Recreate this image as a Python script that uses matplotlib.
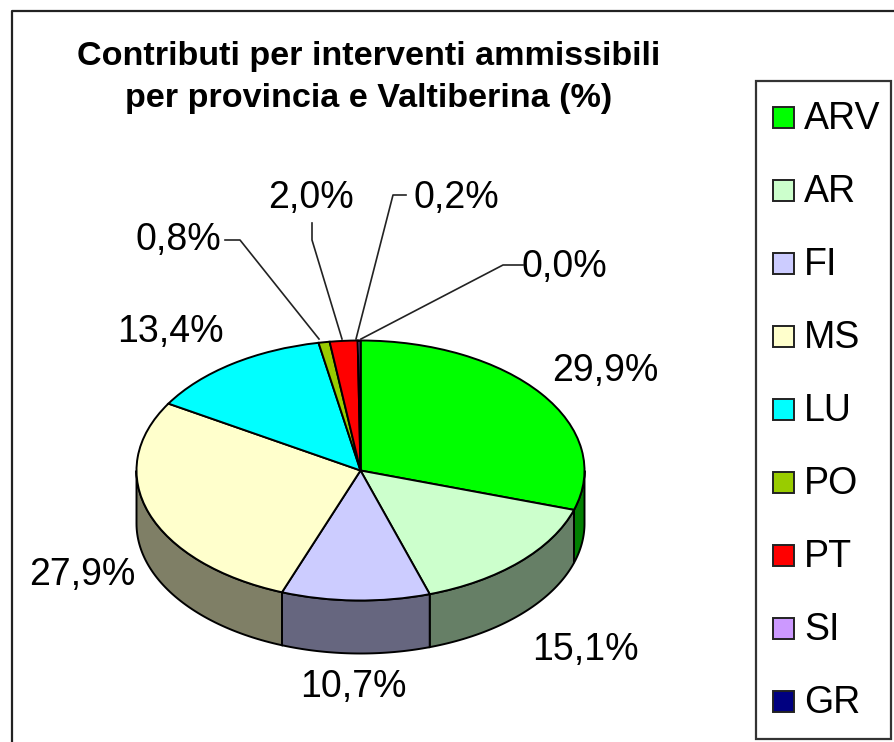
import matplotlib

matplotlib.use("Agg")
import matplotlib.pyplot as plt
import numpy as np
from matplotlib.patches import Rectangle

plt.rcParams["font.family"] = ["Liberation Sans", "DejaVu Sans"]

categories = ["ARV", "AR", "FI", "MS", "LU", "PO", "PT", "SI", "GR"]
values = [29.9, 15.1, 10.7, 27.9, 13.4, 0.8, 2.0, 0.2, 0.0]
colors = [
    "#00FF00", "#CCFFCC", "#CCCCFF", "#FFFFCC", "#00FFFF",
    "#99CC00", "#FF0000", "#CC99FF", "#000080",
]
side_colors = ["#007F00", "#667F66", "#66667F", "#7F7F66", "#007F7F",
               "#4C6600", "#7F0000", "#664C7F", "#000040"]
value_labels = ["29,9%", "15,1%", "10,7%", "27,9%", "13,4%", "0,8%", "2,0%", "0,2%", "0,0%"]
title_lines = ["Contributi per interventi ammissibili", "per provincia e Valtiberina (%)"]

W, H = 895, 742
CX, CY, RX, RY = 360.5, 470.5, 224, 130
DEPTH = 53 / RY

fig = plt.figure(figsize=(W / 100, H / 100), dpi=100)

# squashed pie axes, 1 data unit = RX px across and RY px down
ax = fig.add_axes([(CX - 1.5 * RX) / W, 1 - (CY + 1.5 * RY) / H, 3 * RX / W, 3 * RY / H])
ax.pie(
    values,
    colors=colors,
    startangle=90,
    counterclock=False,
    wedgeprops={"edgecolor": "black", "linewidth": 1.4},
    radius=1,
)
ax.set_aspect("auto")
ax.set_xlim(-1.5, 1.5)
ax.set_ylim(-1.5, 1.5)
ax.axis("off")

# side wall, only the part of each slice that faces the viewer
edges = 90 - 3.6 * np.concatenate([[0], np.cumsum(values)])
for i, color in enumerate(side_colors):
    hi = min(edges[i], 0)
    lo = max(edges[i + 1], -180)
    if hi <= lo:
        continue
    t = np.radians(np.linspace(lo, hi, 60))
    xs = np.concatenate([np.cos(t), np.cos(t[::-1])])
    ys = np.concatenate([np.sin(t), np.sin(t[::-1]) - DEPTH])
    ax.fill(xs, ys, facecolor=color, edgecolor="black", linewidth=1.4, zorder=0)

# overlay in reference pixels for text, frame and legend
ov = fig.add_axes([0, 0, 1, 1], facecolor="none")
ov.set_xlim(0, W)
ov.set_ylim(H, 0)
ov.axis("off")

ov.plot([12.5, 12.5, W], [H, 10.5, 10.5], color="#222222", lw=1.6, clip_on=False)

for y, line in zip([56, 99], title_lines):
    ov.text(369, y, line, fontsize=24.6, fontweight="bold", ha="center", va="center")

label_pos = [(605, 371), (585, 650), (353, 687), (82, 575), (170, 332),
             (178, 240), (311, 198), (456, 198), (564, 267)]
for (x, y), lab in zip(label_pos, value_labels):
    ov.text(x, y, lab, fontsize=27, ha="center", va="center")

leaders = [
    [(225, 240), (240, 240), (319, 339)],
    [(312, 223), (312, 240), (342, 339)],
    [(406, 195), (393, 195), (356, 339)],
    [(523, 265), (503, 265), (361, 339)],
]
for pts in leaders:
    ov.plot(*zip(*pts), color="#222222", lw=1.2)

ov.add_patch(Rectangle((756.5, 80.5), 135, 658, fc="white", ec="#333333", lw=1.6))
for i, (name, color) in enumerate(zip(categories, colors)):
    y = 117.5 + i * 73
    ov.add_patch(Rectangle((773.5, y - 10.5), 21, 21, fc=color, ec="#222222", lw=1.4))
    ov.text(804, y + 1.5, name, fontsize=27, ha="left", va="center")

fig.savefig("out.png", dpi=100)
